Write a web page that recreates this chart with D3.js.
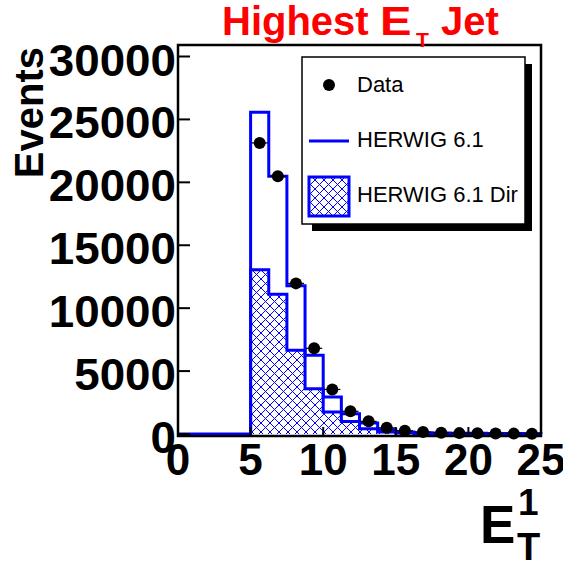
<!DOCTYPE html>
<html>
<head>
<meta charset="utf-8">
<script src="https://cdn.jsdelivr.net/npm/d3@7"></script>
<style>
html,body{margin:0;padding:0;background:#fff;}
svg{display:block;font-family:"Liberation Sans",Arial,Helvetica,sans-serif;}
</style>
</head>
<body>
<svg id="c" width="563" height="563"></svg>
<script>
// ---- data ----
const binLow  = [5, 6.25, 7.5, 8.75, 10, 11.25, 12.5, 13.75, 15, 16.25, 17.5, 18.75, 20, 21.25, 22.5, 23.75];
const binHigh = [6.25, 7.5, 8.75, 10, 11.25, 12.5, 13.75, 15, 16.25, 17.5, 18.75, 20, 21.25, 22.5, 23.75, 25];
const herwigTotal = [25560, 20480, 11790, 6265, 2950, 1600, 880, 340, 150, 100, 80, 60, 50, 40, 30, 25];
const herwigDir   = [13050, 11100, 6650, 3600, 1750, 1000, 420, 160, 70, 40, 30, 25, 20, 15, 10, 10];
const dataValues  = [23130, 20480, 11970, 6810, 3540, 1800, 1004, 490, 262, 150, 100, 70, 55, 40, 30, 25];
const xTicks = [0, 5, 10, 15, 20, 25];
const yTicks = [0, 5000, 10000, 15000, 20000, 25000, 30000];
const legendLabels = ["Data", "HERWIG 6.1", "HERWIG 6.1 Dir"];

const svg = d3.select("#c");
const L = 178, R = 541, T = 45, B = 436;
const x = d3.scaleLinear().domain([0, 25]).range([L, R]);
const y = d3.scaleLinear().domain([0, 30000]).range([434, 56.5]);
const blue = "#0000ff";

// hatch pattern
const defs = svg.append("defs");
const pat = defs.append("pattern").attr("id", "hatch").attr("patternUnits", "userSpaceOnUse")
  .attr("width", 9).attr("height", 9);
pat.append("path").attr("d", "M0,0L9,9M0,9L9,0M-1,8L1,10M8,-1L10,1")
  .attr("stroke", blue).attr("stroke-width", 1).attr("fill", "none");

// step path builder
function stepPoints(vals, startZero) {
  const pts = [];
  if (startZero) { pts.push([x(0), y(0)]); }
  pts.push([x(binLow[0]), y(0)]);
  vals.forEach((v, i) => { pts.push([x(binLow[i]), y(v)]); pts.push([x(binHigh[i]), y(v)]); });
  return pts;
}
const line = d3.line();

// direct (hatched)
const dirPts = stepPoints(herwigDir, false);
dirPts.push([x(binHigh[binHigh.length - 1]), y(0)]);
svg.append("path").attr("d", line(dirPts) + "Z").attr("fill", "url(#hatch)").attr("stroke", "none");
svg.append("path").attr("d", line(dirPts)).attr("fill", "none").attr("stroke", blue).attr("stroke-width", 3);

// total
svg.append("path").attr("d", line(stepPoints(herwigTotal, true))).attr("fill", "none")
  .attr("stroke", blue).attr("stroke-width", 3);

// frame
svg.append("rect").attr("x", L).attr("y", T).attr("width", R - L).attr("height", B - T)
  .attr("fill", "none").attr("stroke", "#000").attr("stroke-width", 2.5);

// y ticks
const yg = svg.append("g");
yTicks.forEach(t => {
  yg.append("line").attr("x1", L).attr("x2", L + 12).attr("y1", y(t)).attr("y2", y(t))
    .attr("stroke", "#000").attr("stroke-width", 2);
  yg.append("text").attr("transform", `translate(176,${y(t) + 19}) scale(1.04,1)`)
    .attr("text-anchor", "end")
    .attr("font-size", 44).attr("font-weight", "bold").text(t);
});
// x ticks
const xg = svg.append("g");
xTicks.forEach(t => {
  if (t > 0 && t < 25) {
    xg.append("line").attr("x1", x(t)).attr("x2", x(t)).attr("y1", B).attr("y2", B - 9)
      .attr("stroke", "#000").attr("stroke-width", 2);
  }
  xg.append("text").attr("x", x(t)).attr("y", 475).attr("text-anchor", "middle")
    .attr("font-size", 44).attr("font-weight", "bold").text(t);
});

// data points
const dg = svg.append("g");
dataValues.forEach((v, i) => {
  const cx = (x(binLow[i]) + x(binHigh[i])) / 2;
  dg.append("line").attr("x1", x(binLow[i]) + 1).attr("x2", x(binHigh[i]) - 1)
    .attr("y1", y(v)).attr("y2", y(v)).attr("stroke", "#000").attr("stroke-width", 1.2);
  dg.append("circle").attr("cx", cx).attr("cy", y(v)).attr("r", 6).attr("fill", "#000");
});

// legend
const lg = svg.append("g");
lg.append("rect").attr("x", 312).attr("y", 224).attr("width", 220).attr("height", 7).attr("fill", "#000");
lg.append("rect").attr("x", 525).attr("y", 64).attr("width", 7).attr("height", 167).attr("fill", "#000");
lg.append("rect").attr("x", 302).attr("y", 57).attr("width", 223).attr("height", 167)
  .attr("fill", "#fff").attr("stroke", "#000").attr("stroke-width", 1.5);
lg.append("circle").attr("cx", 329).attr("cy", 85).attr("r", 6).attr("fill", "#000");
lg.append("line").attr("x1", 309).attr("x2", 349).attr("y1", 141).attr("y2", 141)
  .attr("stroke", blue).attr("stroke-width", 3);
lg.append("rect").attr("x", 309).attr("y", 177).attr("width", 40).attr("height", 39)
  .attr("fill", "url(#hatch)").attr("stroke", blue).attr("stroke-width", 3);
[92, 147, 202].forEach((by, i) => {
  lg.append("text").attr("x", 357).attr("y", by).attr("font-size", 22).text(legendLabels[i]);
});

// title
const tg = svg.append("g").attr("fill", "#ff0000").attr("font-weight", "bold");
tg.append("text").attr("x", 222).attr("y", 35).attr("font-size", 40).text("Highest");
tg.append("text").attr("transform", "translate(380,35) scale(1.18,1)").attr("font-size", 40).text("E");
tg.append("text").attr("x", 416).attr("y", 47).attr("font-size", 21).text("T");
tg.append("text").attr("x", 441).attr("y", 35).attr("font-size", 40).text("Jet");

// y axis title
svg.append("text").attr("transform", "translate(43,47) rotate(-90)").attr("text-anchor", "end")
  .attr("font-size", 40).attr("font-weight", "bold").text("Events");

// x axis title
const xt = svg.append("g").attr("font-weight", "bold");
xt.append("text").attr("x", 480).attr("y", 543).attr("font-size", 53).text("E");
xt.append("text").attr("x", 518).attr("y", 515).attr("font-size", 37).text("1");
xt.append("text").attr("x", 517).attr("y", 560).attr("font-size", 38).text("T");
</script>
</body>
</html>
